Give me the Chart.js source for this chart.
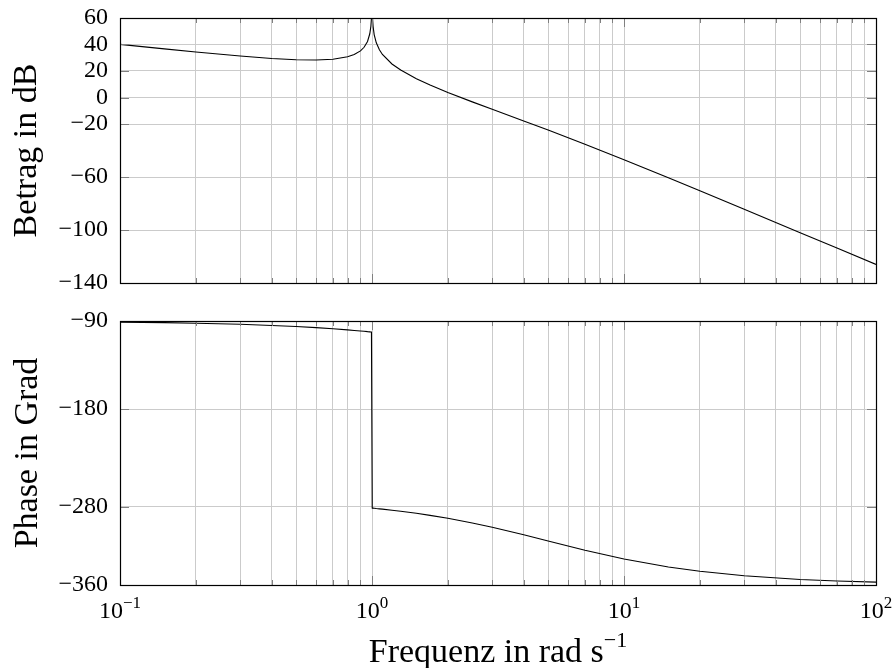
<!DOCTYPE html>
<html>
<head>
<meta charset="utf-8">
<script src="https://cdn.jsdelivr.net/npm/chart.js@4"></script>
<style>
  body { margin: 0; background: #fff; }
  #wrap { position: relative; width: 893px; height: 668px; }
  canvas { position: absolute; left: 0; }
</style>
</head>
<body>
<div id="wrap">
  <canvas id="c1" width="893" height="300" style="top:0"></canvas>
  <canvas id="c2" width="893" height="368" style="top:300px"></canvas>
</div>
<script>
// Frequenz in rad/s, Betrag in dB, Phase in Grad
var freq = [0.1, 0.15, 0.2, 0.3, 0.4, 0.5, 0.6, 0.7, 0.8, 0.85, 0.9, 0.93, 0.96, 0.98, 0.99, 0.995, 0.998,
            1.002, 1.005, 1.01, 1.02, 1.04, 1.07, 1.1, 1.2, 1.3, 1.5, 1.7, 2, 2.5, 3, 4, 5, 7, 10, 15, 20, 30, 50, 70, 100];
var betrag = [40.1, 36.7, 34.3, 31.3, 29.4, 28.5, 28.3, 28.9, 30.7, 32.4, 35.2, 37.9, 42.3, 48.1, 53.9, 59.9, 67.8,
              67.8, 59.8, 53.7, 47.5, 41.3, 36.0, 32.5, 25.3, 20.7, 14.2, 9.4, 3.8, -3.3, -8.9, -17.7, -24.6, -35.2, -46.9, -60.5, -70.3, -84.3, -102.0, -113.6, -126.0];
var phase = [-91.2, -91.7, -92.3, -93.4, -94.6, -95.7, -96.8, -98.0, -99.1, -99.7, -100.2, -100.5, -100.9, -101.1, -101.2, -101.3, -101.3,
             -281.3, -281.4, -281.4, -281.5, -281.8, -282.1, -282.4, -283.5, -284.6, -286.7, -288.8, -291.8, -296.6, -301.0, -308.7, -315.0, -324.5, -333.4, -341.6, -346.0, -350.5, -354.3, -355.9, -357.1];

var xTicks = [0.1, 0.2, 0.3, 0.4, 0.5, 0.6, 0.7, 0.8, 0.9, 1, 2, 3, 4, 5, 6, 7, 8, 9, 10, 20, 30, 40, 50, 60, 70, 80, 90, 100];
var decades = [0.1, 1, 10, 100];
var exponents = ["\u22121", "0", "1", "2"];
var betragTicks = [60, 40, 20, 0, -20, -60, -100, -140];
var phaseTicks = [-90, -180, -280, -360];

var FAMILY = '"Liberation Serif", "DejaVu Serif", serif';
var GRID = "#cbcbcb";

function minus(v) { return String(v).replace("-", "\u2212"); }

function points(ys) {
  return freq.map(function(f, i) { return { x: f, y: ys[i] }; });
}

function isDecade(v) {
  var l = Math.log10(v);
  return Math.abs(l - Math.round(l)) < 1e-9;
}

// Rahmen, Tickmarken, Achsentitel
function framePlugin(yTitle, titleX, withXLabels) {
  return {
    id: "frame",
    afterDraw: function(chart) {
      var ctx = chart.ctx, a = chart.chartArea;
      var xs = chart.scales.x, ys = chart.scales.y;
      ctx.save();
      ctx.strokeStyle = "#808080";
      ctx.lineWidth = 1;
      ctx.beginPath();
      xTicks.forEach(function(v) {
        var px = Math.round(xs.getPixelForValue(v)) + 0.5;
        var len = isDecade(v) ? 9 : 5;
        ctx.moveTo(px, a.top); ctx.lineTo(px, a.top + len);
        ctx.moveTo(px, a.bottom); ctx.lineTo(px, a.bottom - len);
      });
      ys.ticks.forEach(function(t) {
        var py = Math.round(ys.getPixelForValue(t.value)) + 0.5;
        ctx.moveTo(a.left, py); ctx.lineTo(a.left + 9, py);
        ctx.moveTo(a.right, py); ctx.lineTo(a.right - 9, py);
      });
      ctx.stroke();

      ctx.strokeStyle = "#000";
      ctx.lineWidth = 1.2;
      ctx.strokeRect(Math.round(a.left) + 0.5, Math.round(a.top) + 0.5,
                     Math.round(a.right - a.left), Math.round(a.bottom - a.top));

      ctx.fillStyle = "#000";
      ctx.save();
      ctx.translate(titleX, (a.top + a.bottom) / 2);
      ctx.rotate(-Math.PI / 2);
      ctx.font = "34px " + FAMILY;
      ctx.textAlign = "center";
      ctx.textBaseline = "alphabetic";
      ctx.fillText(yTitle, 0, 0);
      ctx.restore();

      if (withXLabels) {
        ctx.textAlign = "left";
        ctx.textBaseline = "alphabetic";
        decades.forEach(function(v, i) {
          var cx = xs.getPixelForValue(v);
          ctx.font = "24px " + FAMILY;
          var wb = ctx.measureText("10").width;
          ctx.font = "17px " + FAMILY;
          var we = ctx.measureText(exponents[i]).width;
          var x0 = cx - (wb + we) / 2;
          ctx.font = "24px " + FAMILY;
          ctx.fillText("10", x0, 318);
          ctx.font = "17px " + FAMILY;
          ctx.fillText(exponents[i], x0 + wb, 308);
        });
        var main = "Frequenz in rad s";
        ctx.font = "34px " + FAMILY;
        var wm = ctx.measureText(main).width;
        ctx.font = "22px " + FAMILY;
        var wx = ctx.measureText("\u22121").width;
        var cx2 = (a.left + a.right) / 2;
        var s = cx2 - (wm + wx) / 2;
        ctx.font = "34px " + FAMILY;
        ctx.fillText(main, s, 362);
        ctx.font = "22px " + FAMILY;
        ctx.fillText("\u22121", s + wm, 347);
      }
      ctx.restore();
    }
  };
}

function makeChart(id, ys, yMin, yMax, yTickList, padding, xHeight, yTitle, titleX, withXLabels) {
  return new Chart(document.getElementById(id), {
    type: "line",
    data: {
      datasets: [{
        data: points(ys),
        borderColor: "#000",
        borderWidth: 1.1,
        pointRadius: 0,
        tension: 0,
        fill: false
      }]
    },
    options: {
      responsive: false,
      animation: false,
      layout: { padding: padding },
      plugins: { legend: { display: false }, tooltip: { enabled: false } },
      scales: {
        x: {
          type: "logarithmic",
          min: 0.1,
          max: 100,
          afterBuildTicks: function(s) { s.ticks = xTicks.map(function(v) { return { value: v }; }); },
          afterFit: function(s) { s.height = xHeight; s.paddingLeft = 0; s.paddingRight = 0; },
          ticks: { display: false },
          grid: { color: GRID, drawTicks: false },
          border: { display: false }
        },
        y: {
          min: yMin,
          max: yMax,
          afterBuildTicks: function(s) { s.ticks = yTickList.map(function(v) { return { value: v }; }); },
          afterFit: function(s) { s.width = 120; s.paddingTop = 0; s.paddingBottom = 0; },
          ticks: {
            color: "#000",
            padding: 12,
            font: { family: FAMILY, size: 24 },
            callback: function(v) { return minus(v); }
          },
          grid: { color: GRID, drawTicks: false },
          border: { display: false }
        }
      }
    },
    plugins: [framePlugin(yTitle, titleX, withXLabels)]
  });
}

makeChart("c1", betrag, -140, 60, betragTicks, { top: 18, right: 17, bottom: 17, left: 0 }, 0, "Betrag in dB", 36, false);
makeChart("c2", phase, -360, -90, phaseTicks, { top: 21, right: 17, bottom: 0, left: 0 }, 83, "Phase in Grad", 37, true);
</script>
</body>
</html>
